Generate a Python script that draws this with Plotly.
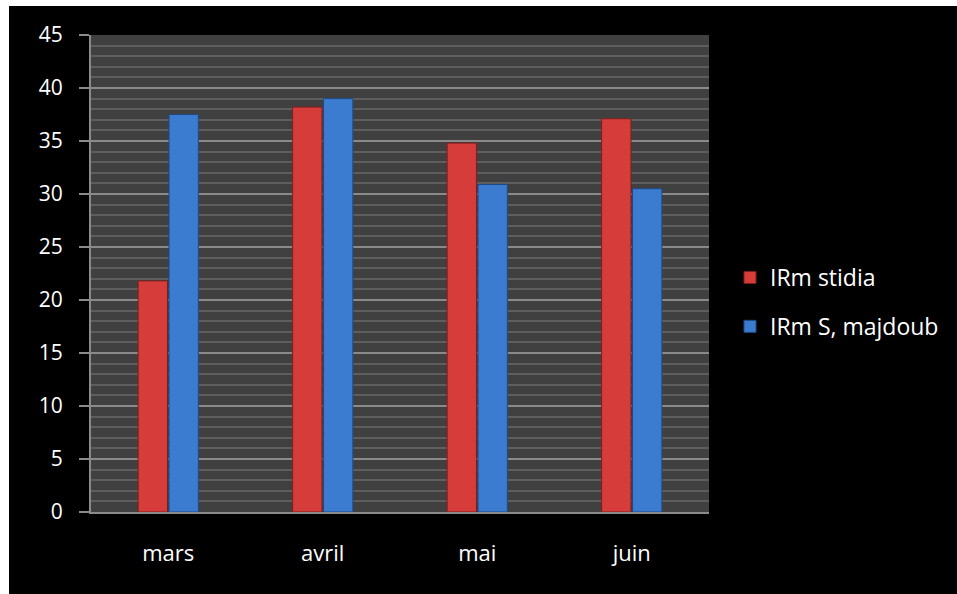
import plotly.graph_objects as go

categories = ["mars", "avril", "mai", "juin"]
irm_stidia = [21.8, 38.2, 34.8, 37.1]
irm_majdoub = [37.5, 39.0, 30.9, 30.5]
series_names = ["IRm stidia", "IRm S, majdoub"]

W, H = 957, 594
L, R, T, B = 91, 709, 35, 512
pw, ph = R - L, B - T

def px_x(x):
    return (x - L) / pw

def px_y(y):
    return (B - y) / ph

fig = go.Figure()
fig.add_trace(go.Bar(
    x=categories, y=irm_stidia, name=series_names[0], legendgroup="a",
    marker=dict(color="#d63d3a", line=dict(color="#7e1e1c", width=1)),
))
fig.add_trace(go.Bar(
    x=categories, y=irm_majdoub, name=series_names[1], legendgroup="b",
    marker=dict(color="#3b7bd0", line=dict(color="#1d4a86", width=1)),
))

font = "'Open Sans', Lato, sans-serif"
fs = 21

fig.update_layout(
    width=W, height=H,
    margin=dict(l=L, r=W - R, t=T, b=H - B, autoexpand=False),
    paper_bgcolor="black",
    plot_bgcolor="#404040",
    barmode="group",
    bargap=0.6,
    bargroupgap=0.05,
    font=dict(family=font, color="white", size=fs),
    showlegend=True,
    legend=dict(
        x=px_x(730), y=px_y(256), xanchor="left", yanchor="top",
        font=dict(size=23, color="white"),
        bgcolor="rgba(0,0,0,0)",
        tracegroupgap=16, itemwidth=30,
    ),
    xaxis=dict(
        showgrid=False, showline=True, linecolor="#8a8a8a", linewidth=2,
        ticks="", tickfont=dict(size=22, color="white"),
        ticklabelstandoff=21,
    ),
    yaxis=dict(
        range=[0, 45], dtick=5, tick0=0,
        showgrid=True, gridcolor="#8a8a8a", gridwidth=2,
        showline=True, linecolor="#8a8a8a", linewidth=2,
        ticks="outside", ticklen=10, tickcolor="#8a8a8a", tickwidth=2,
        tickfont=dict(size=fs, color="white"),
        ticklabelstandoff=12,
        zeroline=False,
        minor=dict(dtick=1, showgrid=True, gridcolor="#5e5e5e", gridwidth=2),
    ),
    shapes=[
        dict(type="rect", xref="paper", yref="paper", layer="above",
             x0=px_x(0), x1=px_x(9), y0=px_y(H), y1=px_y(0),
             fillcolor="white", line=dict(width=0)),
        dict(type="rect", xref="paper", yref="paper", layer="above",
             x0=px_x(0), x1=px_x(W), y0=px_y(6), y1=px_y(0),
             fillcolor="white", line=dict(width=0)),
    ],
)

fig.write_html("out.html")
